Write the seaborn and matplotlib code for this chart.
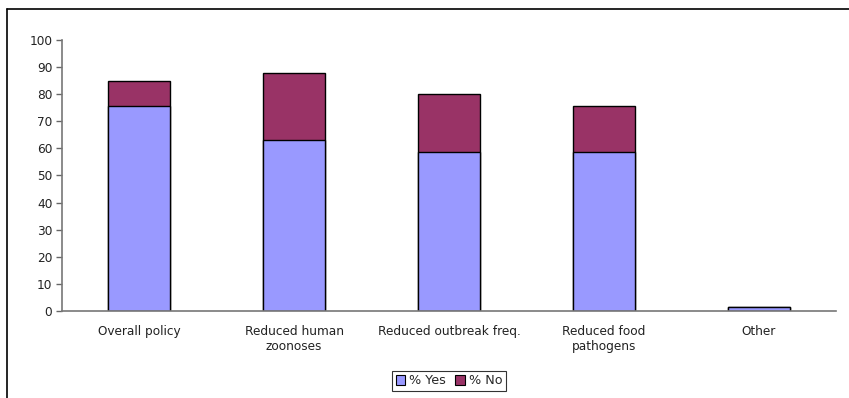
import matplotlib
matplotlib.use("Agg")
import matplotlib.pyplot as plt
from matplotlib.lines import Line2D
from matplotlib.patches import Patch
import seaborn as sns
import pandas as pd
import numpy as np

categories = ["Overall policy", "Reduced human\nzoonoses", "Reduced outbreak freq.",
              "Reduced food\npathogens", "Other"]
pct_yes = [75.5, 63.0, 58.5, 58.5, 1.5]
pct_no = [9.2, 24.8, 21.5, 17.0, 0.0]
y_ticks = list(range(0, 101, 10))

yes_color = "#9999FF"
no_color = "#993366"

sns.set_style("white")
plt.rcParams["font.family"] = ["DejaVu Sans"]

df = pd.DataFrame({
    "category": categories,
    "yes": pct_yes,
    "total": np.array(pct_yes) + np.array(pct_no),
})

fig = plt.figure(figsize=(8.49, 3.98), dpi=100)
ax = fig.add_axes([0.0730, 0.2186, 0.9117, 0.6809])

# stacked bars: full height in the "No" colour, "Yes" portion drawn over it
sns.barplot(data=df, x="category", y="total", color=no_color, saturation=1,
            width=0.4, edgecolor="black", linewidth=1.0, ax=ax)
sns.barplot(data=df, x="category", y="yes", color=yes_color, saturation=1,
            width=0.4, edgecolor="black", linewidth=1.0, ax=ax)

ax.set_xlim(-0.5, len(categories) - 0.5)
ax.set_ylim(0, 100)
ax.set_yticks(y_ticks)
ax.set_xlabel("")
ax.set_ylabel("")

ax.set_xticks(range(len(categories)))
ax.set_xticklabels(categories, fontsize=8.7, color="#222222", linespacing=1.25)
ax.tick_params(axis="x", which="major", length=0, pad=10)
ax.set_xticks(np.arange(-0.5, len(categories), 1.0), minor=True)
ax.tick_params(axis="x", which="minor", length=4, width=1, color="#666666", direction="out")
ax.tick_params(axis="y", labelsize=8.7, labelcolor="#222222", length=4, width=1,
               color="#666666", direction="out", left=True, pad=3)

for side in ("top", "right"):
    ax.spines[side].set_visible(False)
for side in ("left", "bottom"):
    ax.spines[side].set_color("#777777")
    ax.spines[side].set_linewidth(1.2)

# outer chart frame (top and left edges)
fig.add_artist(Line2D([7 / 849, 1.0], [1 - 9 / 398, 1 - 9 / 398],
                      transform=fig.transFigure, color="black", linewidth=1.2))
fig.add_artist(Line2D([7 / 849, 7 / 849], [0.0, 1 - 9 / 398],
                      transform=fig.transFigure, color="black", linewidth=1.2))

handles = [Patch(facecolor=yes_color, edgecolor="black", linewidth=0.8),
           Patch(facecolor=no_color, edgecolor="black", linewidth=0.8)]
leg = fig.legend(handles, ["% Yes", "% No"], loc="center",
                 bbox_to_anchor=(449 / 849, 1 - 381 / 398), ncol=2, fontsize=9.2,
                 frameon=True, fancybox=False, handlelength=0.75, handleheight=0.75,
                 handletextpad=0.3, columnspacing=0.7, borderpad=0.3)
leg.get_frame().set_edgecolor("black")
leg.get_frame().set_linewidth(0.8)

fig.savefig("out.png", dpi=100)
